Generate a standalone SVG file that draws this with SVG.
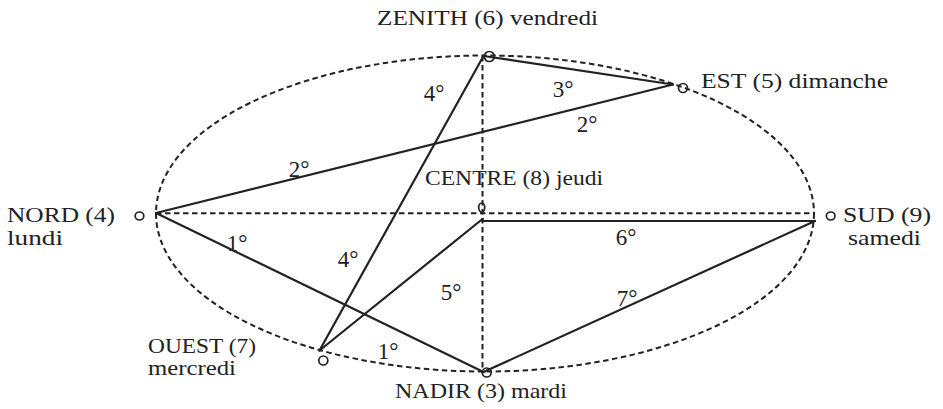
<svg xmlns="http://www.w3.org/2000/svg" width="943" height="409" viewBox="0 0 943 409">
  <style>
    .dash { fill: none; stroke: #222; stroke-width: 2; stroke-dasharray: 5.5 3.5; }
    .solid { fill: none; stroke: #222; stroke-width: 2.2; stroke-linecap: round; }
    .mark { fill: none; stroke: #222; stroke-width: 1.7; }
    .lbl { font-family: "Liberation Serif", "Times New Roman", serif; font-size: 21px; fill: #222; }
    .deg { font-family: "Liberation Serif", "Times New Roman", serif; font-size: 23px; fill: #222; text-anchor: middle; }
  </style>
  <rect width="943" height="409" fill="#ffffff"/>

  <g id="orbit">
    <ellipse class="dash" cx="485" cy="213.5" rx="329" ry="158"/>
  </g>

  <g id="connectors">
    <line class="dash" x1="156" y1="213.3" x2="815" y2="213.3"/>
    <line class="dash" x1="482.5" y1="56" x2="482.5" y2="372"/>
    <line class="solid" x1="483.5" y1="56" x2="673" y2="84.5"/>
    <line class="solid" x1="156" y1="213" x2="673" y2="84.5"/>
    <line class="solid" x1="483.5" y1="56" x2="319.5" y2="350.5"/>
    <line class="solid" x1="156" y1="213" x2="483.5" y2="372"/>
    <line class="solid" x1="482.5" y1="219" x2="319.5" y2="350.5"/>
    <polyline class="solid" points="482.5,219 482.5,221 815,221"/>
    <line class="solid" x1="815" y1="221" x2="483.5" y2="372"/>
  </g>

  <g id="connector-labels">
    <text class="deg" x="563" y="97">3°</text>
    <text class="deg" x="434" y="101">4°</text>
    <text class="deg" x="587" y="132">2°</text>
    <text class="deg" x="299" y="177">2°</text>
    <text class="deg" x="237" y="251">1°</text>
    <text class="deg" x="348" y="267">4°</text>
    <text class="deg" x="451" y="300">5°</text>
    <text class="deg" x="626" y="245">6°</text>
    <text class="deg" x="627" y="306">7°</text>
    <text class="deg" x="388" y="359">1°</text>
  </g>

  <g id="zenith">
    <circle class="mark" cx="489.3" cy="56.5" r="5"/>
    <text class="lbl" x="377" y="25" textLength="221" lengthAdjust="spacingAndGlyphs">ZENITH (6) vendredi</text>
  </g>

  <g id="est">
    <circle class="mark" cx="683" cy="88" r="4.5"/>
    <text class="lbl" x="701" y="88" textLength="187" lengthAdjust="spacingAndGlyphs">EST (5) dimanche</text>
  </g>

  <g id="centre">
    <ellipse class="mark" cx="481.7" cy="207.5" rx="3" ry="4.5"/>
    <text class="lbl" x="425" y="185" textLength="178" lengthAdjust="spacingAndGlyphs">CENTRE (8) jeudi</text>
  </g>

  <g id="nord">
    <ellipse class="mark" cx="139.5" cy="216" rx="4.3" ry="4"/>
    <text class="lbl" x="7" y="222" textLength="108" lengthAdjust="spacingAndGlyphs">NORD (4)</text>
    <text class="lbl" x="7" y="245" textLength="56" lengthAdjust="spacingAndGlyphs">lundi</text>
  </g>

  <g id="sud">
    <ellipse class="mark" cx="830.7" cy="216" rx="4.3" ry="4"/>
    <text class="lbl" x="843" y="222" textLength="88" lengthAdjust="spacingAndGlyphs">SUD (9)</text>
    <text class="lbl" x="848" y="245" textLength="73" lengthAdjust="spacingAndGlyphs">samedi</text>
  </g>

  <g id="ouest">
    <circle class="mark" cx="323.3" cy="360.5" r="4.5"/>
    <text class="lbl" x="148" y="353" textLength="108" lengthAdjust="spacingAndGlyphs">OUEST (7)</text>
    <text class="lbl" x="148" y="375" textLength="88" lengthAdjust="spacingAndGlyphs">mercredi</text>
  </g>

  <g id="nadir">
    <circle class="mark" cx="486.7" cy="372.5" r="4.5"/>
    <text class="lbl" x="395" y="398" textLength="172" lengthAdjust="spacingAndGlyphs">NADIR (3) mardi</text>
  </g>
</svg>
